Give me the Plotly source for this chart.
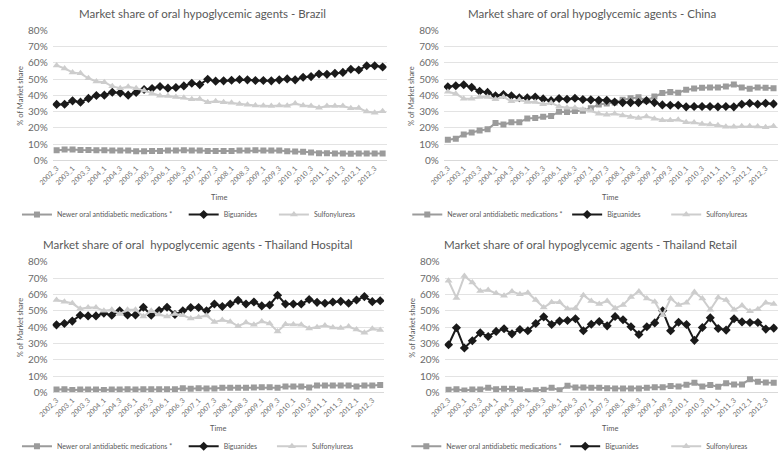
import plotly.graph_objects as go

# ---------------- data ----------------
quarters = ["2002_3", "2002_4",
            "2003_1", "2003_2", "2003_3", "2003_4",
            "2004_1", "2004_2", "2004_3", "2004_4",
            "2005_1", "2005_2", "2005_3", "2005_4",
            "2006_1", "2006_2", "2006_3", "2006_4",
            "2007_1", "2007_2", "2007_3", "2007_4",
            "2008_1", "2008_2", "2008_3", "2008_4",
            "2009_1", "2009_2", "2009_3", "2009_4",
            "2010_1", "2010_2", "2010_3", "2010_4",
            "2011_1", "2011_2", "2011_3", "2011_4",
            "2012_1", "2012_2", "2012_3", "2012_4"]

tick_labels = ["2002_3", "2003_1", "2003_3", "2004_1", "2004_3", "2005_1", "2005_3",
               "2006_1", "2006_3", "2007_1", "2007_3", "2008_1", "2008_3", "2009_1",
               "2009_3", "2010_1", "2010_3", "2011_1", "2011_3", "2012_1", "2012_3"]

y_ticks = [0, 10, 20, 30, 40, 50, 60, 70, 80]

series_names = ["Newer oral antidiabetic medications *", "Biguanides", "Sulfonylureas"]

brazil_newer = [6.3, 6.7, 6.7, 6.5, 6.5, 6.3, 6.3, 6.1, 6.1, 6.1, 5.7, 5.7, 5.9, 5.9,
                6.1, 6.1, 6.3, 6.1, 6.1, 5.9, 5.9, 5.9, 5.9, 6.1, 6.1, 6.3, 6.1, 6.1,
                6.1, 5.7, 5.5, 5.3, 4.9, 4.5, 4.5, 4.3, 4.3, 4.1, 4.3, 4.3, 4.3, 4.3]
brazil_biguanides = [34.5, 34.6, 36.7, 35.9, 38.2, 40.0, 40.2, 42.0, 41.6, 40.2, 41.8, 43.7,
                     44.3, 45.5, 44.5, 44.9, 45.9, 47.5, 46.7, 50.0, 48.8, 49.0, 49.4, 49.8,
                     49.6, 49.2, 49.2, 49.0, 49.6, 50.2, 49.6, 51.2, 51.6, 53.2, 53.0, 53.6,
                     54.2, 56.1, 55.7, 58.3, 58.3, 57.5]
brazil_sulfonylureas = [58.5, 56.6, 54.2, 53.6, 50.6, 48.6, 48.2, 45.6, 44.5, 45.3, 44.5, 43.0,
                        41.2, 39.8, 39.6, 39.0, 38.6, 37.6, 37.8, 35.9, 36.5, 35.9, 35.5, 34.7,
                        34.3, 33.9, 33.7, 33.5, 33.9, 33.7, 35.1, 33.9, 33.5, 32.5, 33.5, 33.5,
                        33.5, 32.1, 32.3, 30.1, 29.4, 30.3]

china_newer = [12.8, 13.4, 16.0, 17.2, 18.5, 19.2, 23.0, 22.1, 23.5, 23.5, 25.9, 26.1, 26.9,
               27.3, 30.0, 29.8, 30.4, 30.6, 32.2, 34.5, 35.0, 35.6, 37.4, 38.3, 38.9, 36.8,
               39.3, 41.5, 42.1, 41.7, 43.5, 44.3, 44.7, 44.9, 44.9, 45.5, 46.8, 44.9, 44.1,
               44.9, 44.7, 44.5]
china_biguanides = [45.3, 46.0, 46.6, 45.0, 42.6, 41.9, 39.8, 40.6, 39.8, 38.6, 38.5, 39.1,
                    37.9, 36.8, 38.1, 37.7, 38.3, 37.5, 37.3, 37.0, 37.0, 36.0, 35.6, 35.6,
                    35.6, 36.8, 35.6, 34.2, 34.0, 34.0, 33.0, 33.2, 33.2, 33.2, 33.0, 33.2,
                    33.0, 34.6, 35.2, 34.6, 35.2, 34.8]
china_sulfonylureas = [42.3, 41.1, 38.0, 38.0, 39.1, 39.1, 37.7, 39.1, 36.4, 37.4, 36.0, 36.0,
                       34.6, 35.4, 33.2, 32.4, 32.4, 31.4, 30.6, 28.7, 28.1, 28.7, 27.7, 26.7,
                       26.1, 27.1, 25.7, 24.7, 24.7, 25.1, 23.5, 23.3, 22.5, 22.1, 21.7, 20.8,
                       20.8, 21.1, 21.1, 20.9, 20.4, 21.1]

hospital_newer = [1.8, 2.0, 1.5, 1.8, 1.8, 1.8, 1.5, 1.8, 1.8, 2.0, 1.8, 2.0, 2.0, 2.0,
                  2.0, 2.0, 2.6, 2.2, 2.6, 2.4, 2.4, 2.8, 2.8, 2.8, 2.8, 3.0, 3.2, 3.2,
                  2.8, 3.7, 3.7, 3.7, 3.0, 4.3, 4.3, 4.3, 4.3, 4.3, 3.7, 4.3, 4.3, 4.5]
hospital_biguanides = [41.4, 42.2, 43.7, 47.3, 46.9, 46.9, 48.5, 47.3, 50.0, 47.5, 47.5, 52.2,
                       47.3, 50.2, 52.2, 47.7, 50.0, 52.0, 52.0, 50.0, 54.2, 52.6, 54.2, 56.4,
                       54.2, 55.4, 53.0, 53.6, 59.5, 54.2, 54.2, 54.2, 56.9, 55.2, 54.6, 55.4,
                       55.8, 54.6, 56.6, 58.7, 55.6, 56.2]
hospital_sulfonylureas = [56.6, 55.6, 54.6, 51.2, 52.0, 52.0, 50.0, 50.6, 48.1, 50.6, 50.6, 46.5,
                          50.0, 47.7, 46.5, 48.1, 47.3, 45.3, 46.1, 47.1, 43.2, 44.3, 43.3, 40.6,
                          42.8, 41.4, 43.5, 42.2, 37.4, 41.8, 41.6, 41.4, 39.2, 40.0, 41.0, 39.8,
                          39.4, 40.4, 38.6, 36.5, 39.0, 38.2]

retail_newer = [1.6, 2.0, 1.2, 1.8, 1.8, 2.8, 2.0, 2.2, 2.2, 1.8, 0.8, 1.4, 1.6, 2.8,
                1.4, 4.1, 3.0, 3.0, 2.8, 2.9, 2.6, 2.4, 2.4, 2.4, 2.4, 2.8, 3.2, 3.2,
                3.9, 3.7, 4.7, 5.9, 3.7, 4.5, 3.5, 5.7, 4.9, 4.9, 8.1, 6.5, 6.1, 5.9]
retail_biguanides = [29.2, 39.6, 27.2, 31.7, 36.5, 34.3, 37.4, 39.0, 35.9, 38.6, 37.8, 42.2,
                     46.3, 41.6, 43.7, 44.1, 45.1, 37.8, 41.8, 43.5, 40.8, 46.5, 44.5, 40.2,
                     35.5, 40.2, 42.6, 50.0, 37.8, 43.0, 41.6, 31.9, 39.8, 45.7, 39.2, 38.2,
                     45.1, 43.2, 42.8, 42.8, 38.8, 39.4]
retail_sulfonylureas = [68.4, 57.9, 71.3, 67.4, 62.1, 62.7, 60.7, 59.3, 61.9, 60.1, 61.1, 56.6,
                        52.0, 55.2, 55.2, 51.2, 51.6, 59.5, 56.0, 54.2, 56.0, 51.6, 53.6, 58.5,
                        61.9, 57.5, 55.6, 47.3, 57.5, 53.6, 55.0, 61.5, 57.5, 50.6, 58.1, 56.6,
                        50.6, 53.2, 49.7, 51.0, 55.0, 54.2]

panel_titles = ["Market share of oral hypoglycemic agents - Brazil",
                "Market share of oral hypoglycemic agents - China",
                "Market share of oral  hypoglycemic agents - Thailand Hospital",
                "Market share of oral hypoglycemic agents - Thailand Retail"]

panels = [
    (brazil_newer, brazil_biguanides, brazil_sulfonylureas),
    (china_newer, china_biguanides, china_sulfonylureas),
    (hospital_newer, hospital_biguanides, hospital_sulfonylureas),
    (retail_newer, retail_biguanides, retail_sulfonylureas),
]

# ---------------- layout geometry (pixels) ----------------
W, H = 778, 461
def fx(x):
    return x / W
def fy(y):
    return 1 - y / H

# plot areas: (x0, x1, y_top(80%), y_bottom(0%))
areas = [
    (38.4, 378.9, 24.3, 159.0),
    (437.3, 777.5, 24.3, 159.0),
    (38.3, 376.4, 264.0, 399.3),
    (438.0, 777.7, 264.0, 399.3),
]
title_pos = [(191, 7), (588, 7), (187, 246), (587, 246)]
time_pos = [(208, 197), (607, 197), (207, 437), (607, 437)]
ytitle_pos = [(6, 92), (405, 92), (6, 332), (405, 332)]
legend_text_x = [(48, 218, 310), (446, 609, 710), (48, 218, 308), (445, 607, 710)]
legend_y = [215, 215, 455, 455]

colors = ["#9b9b9b", "#1a1a1a", "#cdcdcd"]
symbols = ["square", "diamond", "triangle-up"]
msizes = [6, 7, 7]
TXT = "#595959"
FONT = "Lato, Carlito, sans-serif"

fig = go.Figure()
layout = dict(
    width=W, height=H,
    margin=dict(l=0, r=0, t=0, b=0),
    paper_bgcolor="white", plot_bgcolor="white",
    font=dict(family=FONT, color=TXT),
    annotations=[],
)

legend_count = 0
for p, (series, area) in enumerate(zip(panels, areas)):
    ax = "" if p == 0 else str(p + 1)
    x0, x1, yt, yb = area
    layout["xaxis" + ax] = dict(
        domain=[fx(x0), fx(x1)], anchor="y" + ax,
        type="category", categoryorder="array", categoryarray=quarters,
        range=[-0.5, len(quarters) - 0.5],
        tickmode="array", tickvals=tick_labels, ticktext=tick_labels,
        tickangle=-45, tickfont=dict(size=7, color="#6e6e6e", family=FONT),
        showgrid=False, showline=True, linecolor="#d9d9d9", linewidth=1,
        ticks="", zeroline=False, fixedrange=True,
    )
    layout["yaxis" + ax] = dict(
        domain=[fy(yb), fy(yt)], anchor="x" + ax,
        range=[0, 80], tickmode="array", tickvals=y_ticks,
        ticktext=[f"{v}%" for v in y_ticks],
        tickfont=dict(size=10, color="#6a6a6a", family=FONT),
        showgrid=True, gridcolor="#e3e3e3", gridwidth=1,
        zeroline=False, showline=False, ticks="", ticklabelstandoff=4,
        fixedrange=True,
    )
    for s in range(3):
        legend_count += 1
        lg = "legend" if legend_count == 1 else f"legend{legend_count}"
        fig.add_trace(go.Scatter(
            x=quarters, y=series[s], name=series_names[s],
            mode="lines+markers",
            line=dict(color=colors[s], width=2),
            marker=dict(symbol=symbols[s], size=msizes[s], color=colors[s]),
            xaxis="x" + ax, yaxis="y" + ax,
            legend=lg, showlegend=True,
        ))
        layout[lg] = dict(
            x=fx(legend_text_x[p][s] - 46), y=fy(legend_y[p]),
            xanchor="left", yanchor="middle",
            orientation="h", bgcolor="rgba(0,0,0,0)", borderwidth=0,
            font=dict(size=7, color=TXT, family=FONT),
            itemwidth=30,
        )
    tx, ty = title_pos[p]
    layout["annotations"].append(dict(
        text=panel_titles[p], x=fx(tx), y=fy(ty), xref="paper", yref="paper",
        xanchor="center", yanchor="middle", showarrow=False,
        font=dict(size=11.5, color=TXT, family=FONT)))
    tx, ty = time_pos[p]
    layout["annotations"].append(dict(
        text="Time", x=fx(tx), y=fy(ty), xref="paper", yref="paper",
        xanchor="center", yanchor="middle", showarrow=False,
        font=dict(size=7.5, color=TXT, family=FONT)))
    tx, ty = ytitle_pos[p]
    layout["annotations"].append(dict(
        text="% of Market share", x=fx(tx), y=fy(ty), xref="paper", yref="paper",
        xanchor="center", yanchor="middle", showarrow=False, textangle=-90,
        font=dict(size=7.5, color=TXT, family=FONT)))

fig.update_layout(**layout)
fig.write_html("out.html", config={"displayModeBar": False},
               post_script="document.body.style.margin='0';document.body.style.overflow='hidden';")
